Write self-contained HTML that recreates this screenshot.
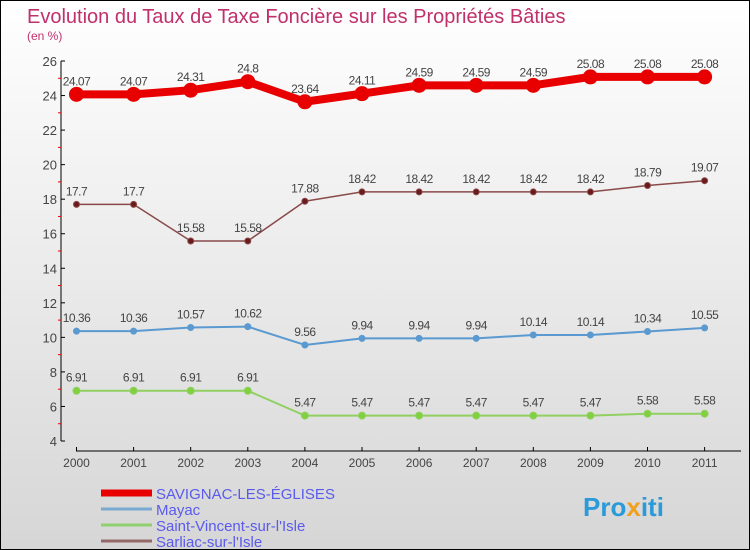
<!DOCTYPE html>
<html><head><meta charset="utf-8"><style>
body{margin:0}
#c{width:748px;height:548px;border:1px solid #000;background:linear-gradient(#fff,#d6d6d6);position:relative;font-family:"Liberation Sans",sans-serif}
</style></head><body>
<div id="c">
<svg id="s" width="748" height="548" style="position:absolute;left:0;top:0">
<text x="26" y="22" font-size="20" fill="#c0306a">Evolution du Taux de Taxe Foncière sur les Propriétés Bâties</text>
<text x="26" y="39" font-size="12" fill="#c0306a">(en %)</text>
<g id="axes"></g><g id="series"></g><g id="legend"></g>
<text x="582" y="515" font-size="26" font-weight="bold" fill="#2a9ad8">Pro<tspan fill="#f0a020">x</tspan>iti</text>
</svg>
</div>
<script>
const years=["2000","2001","2002","2003","2004","2005","2006","2007","2008","2009","2010","2011"];
const savignac=[24.07,24.07,24.31,24.8,23.64,24.11,24.59,24.59,24.59,25.08,25.08,25.08];
const sarliac=[17.7,17.7,15.58,15.58,17.88,18.42,18.42,18.42,18.42,18.42,18.79,19.07];
const mayac=[10.36,10.36,10.57,10.62,9.56,9.94,9.94,9.94,10.14,10.14,10.34,10.55];
const stvincent=[6.91,6.91,6.91,6.91,5.47,5.47,5.47,5.47,5.47,5.47,5.58,5.58];
const yTicks=[4,6,8,10,12,14,16,18,20,22,24,26];
const NS="http://www.w3.org/2000/svg";
const xs=i=>75.5+i*57.1, ys=v=>440-(v-4)*(380/22);
function mk(t,a,p){const e=document.createElementNS(NS,t);for(const k in a)e.setAttribute(k,a[k]);p.appendChild(e);return e;}
const ax=document.getElementById('axes');
let l=mk('line',{x1:60,y1:60,x2:60,y2:440,stroke:'#000'},ax);

l=mk('line',{x1:75,y1:450,x2:740,y2:450,stroke:'#000'},ax);

yTicks.forEach((v,i)=>{
 mk('line',{x1:60,y1:ys(v),x2:64,y2:ys(v),stroke:'#000'},ax);
 if(i<yTicks.length-1)mk('line',{x1:57,y1:ys(v+1),x2:60,y2:ys(v+1),stroke:'#e00'},ax);
 const t=mk('text',{x:56,y:ys(v)+5,'font-size':13,fill:'#444','text-anchor':'end'},ax);t.textContent=v;
 
});
years.forEach((y,i)=>{
 mk('line',{x1:xs(i),y1:446,x2:xs(i),y2:450,stroke:'#000'},ax);
 const t=mk('text',{x:xs(i),y:466,'font-size':12,fill:'#444','text-anchor':'middle'},ax);t.textContent=y;
 
});
const sg=document.getElementById('series');
function draw(data,color,w,r,dot,name){
 const g=mk('g',{},sg);
 const p=mk('polyline',{points:data.map((v,i)=>xs(i)+','+ys(v)).join(' '),fill:'none',stroke:color,'stroke-width':w,'stroke-linejoin':'round'},g);
 
 data.forEach((v,i)=>{
  const c=mk('circle',{cx:xs(i),cy:ys(v),r:r,fill:dot,stroke:color,'stroke-width':1},g);
  
  const t=mk('text',{x:xs(i),y:ys(v)-9,'font-size':12,fill:'#444','text-anchor':'middle','letter-spacing':'-0.5'},g);t.textContent=v;
  
 });
}
draw(savignac,'#e80000',8,7,'#e80000','savignac');
draw(sarliac,'#8a4a4a',1.5,3,'#6a1a1a','sarliac');
draw(mayac,'#5a9ad0',2,3,'#5a9ad0','mayac');
draw(stvincent,'#90d060',2,3.5,'#80d040','saint-vincent');
const lg=document.getElementById('legend');
[["SAVIGNAC-LES-ÉGLISES",'#e80000',7],["Mayac",'#7aaad0',3],["Saint-Vincent-sur-l'Isle",'#90d070',3],["Sarliac-sur-l'Isle",'#946868',3]].forEach((e,i)=>{
 const y=492+i*16;
 const g=mk('g',{},lg);
 mk('line',{x1:100,y1:y,x2:151,y2:y,stroke:e[1],'stroke-width':e[2]},g);
 const t=mk('text',{x:155,y:y+6,'font-size':15,fill:'#5a5aee'},g);t.textContent=e[0];
});
</script>
</body></html>
